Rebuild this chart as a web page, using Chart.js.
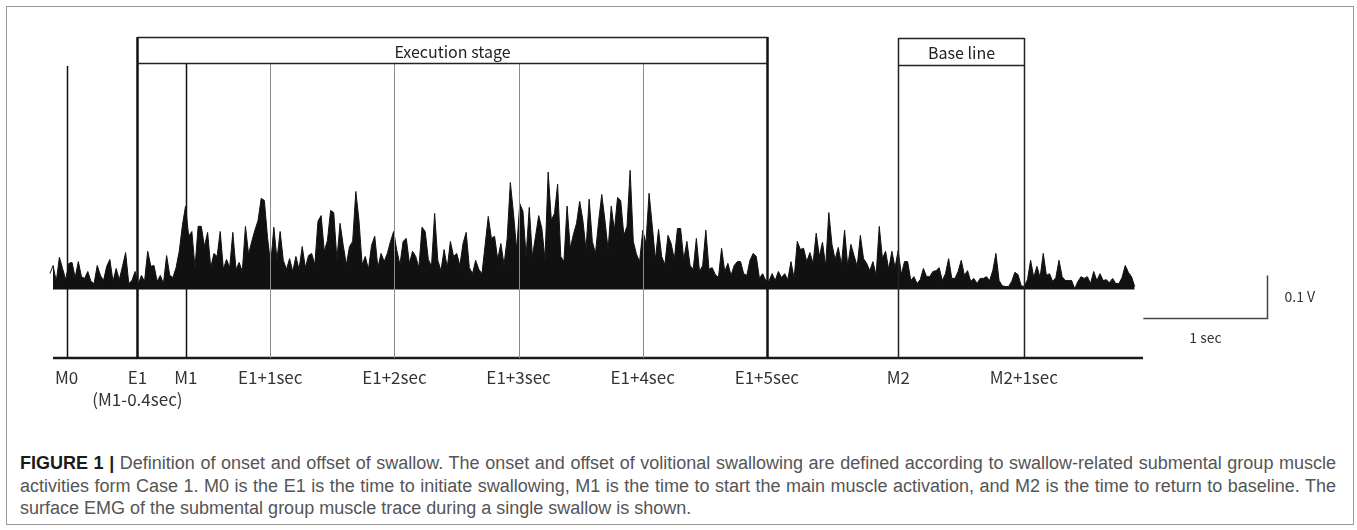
<!DOCTYPE html>
<html>
<head>
<meta charset="utf-8">
<script src="https://cdn.jsdelivr.net/npm/chart.js@4/dist/chart.umd.min.js"></script>
<style>
  html, body { margin: 0; padding: 0; background: #fff; }
  body { width: 1357px; height: 530px; position: relative; overflow: hidden; }
  #frame { position: absolute; left: 6px; top: 6px; width: 1346px; height: 517px; border: 1px solid #9a9a9a; }
  #plot { position: absolute; left: 0; top: 0; }
  #caption {
    position: absolute; left: 20px; top: 452px; width: 1316px;
    font-family: "Liberation Sans", Arial, sans-serif; font-size: 18px; line-height: 22.5px;
    color: #555;
  }
  #caption div { white-space: nowrap; }
  #caption .full { text-align: justify; text-align-last: justify; white-space: normal; }
  #caption b { color: #1a1a1a; font-weight: 700; }
</style>
</head>
<body>
<div id="frame"></div>
<canvas id="plot" width="1357" height="420"></canvas>
<div id="caption">
  <div class="full"><b>FIGURE 1 |</b> Definition of onset and offset of swallow. The onset and offset of volitional swallowing are defined according to swallow-related submental group muscle</div>
  <div class="full">activities form Case 1. M0 is the E1 is the time to initiate swallowing, M1 is the time to start the main muscle activation, and M2 is the time to return to baseline. The</div>
  <div>surface EMG of the submental group muscle trace during a single swallow is shown.</div>
</div>
<script>
// event markers (seconds after E1, as drawn)
var markerLabels = ['M0', 'E1', 'M1', 'E1+1sec', 'E1+2sec', 'E1+3sec', 'E1+4sec', 'E1+5sec', 'M2', 'M2+1sec'];
var markerNotes = ['', '(M1-0.4sec)', '', '', '', '', '', '', '', ''];
var markerTimes = [-0.64, -0.07, 0.32, 1, 2, 3, 4, 5, 6.06, 7.07];

// stage boxes: [first marker, last marker]
var stageNames = ['Execution stage', 'Base line'];
var stageSpans = [[1, 7], [8, 9]];

// scale bar
var scaleBarSec = 1;
var scaleBarMv = 100;

// surface EMG (rectified), mV
var emgStartSec = -0.8;
var emgStepSec = 0.0254;
var emgMv = [
  14,37,56,19,75,49,23,61,63,28,65,30,26,42,19,14,56,33,21,54,
  70,19,49,23,54,86,14,21,42,12,33,19,89,54,56,19,33,14,79,33,
  28,51,89,149,194,124,135,51,147,147,100,133,51,84,77,135,47,70,51,133,
  47,63,42,147,82,112,138,161,212,207,121,58,145,70,135,68,47,72,42,77,
  47,100,51,79,84,58,159,172,89,114,184,179,70,154,103,58,100,112,228,161,
  58,77,47,103,124,51,84,65,84,112,135,91,58,112,119,61,89,77,51,145,
  135,70,54,177,68,44,93,51,112,77,84,56,107,133,51,37,68,47,37,103,
  170,119,124,70,107,58,119,249,177,93,200,182,77,191,77,124,172,142,70,273,
  161,177,245,77,65,194,96,128,154,205,161,93,210,112,84,159,221,161,93,194,
  138,214,207,126,147,277,112,82,65,138,107,224,149,70,140,77,58,126,107,70,
  142,142,70,112,56,47,119,42,56,138,47,51,35,28,96,42,61,33,56,65,
  65,37,33,68,84,77,26,37,21,19,37,21,42,28,37,23,65,26,112,93,
  96,65,86,61,131,77,110,54,179,105,70,98,58,138,54,105,79,54,126,72,
  61,44,65,33,147,72,89,47,89,51,91,35,65,65,21,30,14,23,49,30,
  30,42,44,51,21,37,72,26,26,42,68,33,44,19,26,14,26,26,30,21,
  44,84,21,9,7,7,19,40,35,9,7,23,68,28,54,28,84,33,37,19,
  28,68,30,21,21,21,2,19,30,26,30,14,42,21,37,21,23,16,26,14,
  14,28,56,40,30,7
];

var emgPoints = emgMv.map(function (v, i) {
  return { x: emgStartSec + i * emgStepSec, y: v };
});

var labelFont = '"Noto Sans CJK JP", "Noto Sans", sans-serif';

// line look of each marker: width, colour, top offset from plot top (px)
var markerLook = [
  { w: 1.5, c: '#111', top: 29 },
  { w: 2.5, c: '#111', top: 0 },
  { w: 1.5, c: '#111', top: 26 },
  { w: 1, c: '#8a8a8a', top: 26 },
  { w: 1, c: '#8a8a8a', top: 26 },
  { w: 1, c: '#8a8a8a', top: 26 },
  { w: 1, c: '#8a8a8a', top: 26 },
  { w: 2.5, c: '#111', top: 0 },
  { w: 1.5, c: '#222', top: 1 },
  { w: 1.5, c: '#222', top: 1 }
];
var boxLook = [{ top: 0, head: 26 }, { top: 1, head: 27 }];

var figurePlugin = {
  id: 'figureMarks',
  afterDatasetsDraw: function (chart) {
    var ctx = chart.ctx, xs = chart.scales.x, ys = chart.scales.y, area = chart.chartArea;
    ctx.save();
    // axis line
    ctx.strokeStyle = '#1a1a1a';
    ctx.lineWidth = 2.5;
    ctx.beginPath();
    ctx.moveTo(xs.getPixelForValue(-0.75), area.bottom);
    ctx.lineTo(area.right, area.bottom);
    ctx.stroke();
    // marker lines
    markerTimes.forEach(function (t, i) {
      var x = Math.round(xs.getPixelForValue(t)) + 0.5;
      ctx.strokeStyle = markerLook[i].c;
      ctx.lineWidth = markerLook[i].w;
      ctx.beginPath();
      ctx.moveTo(x, area.top + markerLook[i].top);
      ctx.lineTo(x, area.bottom);
      ctx.stroke();
    });
    // stage boxes
    stageSpans.forEach(function (span, i) {
      var x0 = Math.round(xs.getPixelForValue(markerTimes[span[0]])) + 0.5;
      var x1 = Math.round(xs.getPixelForValue(markerTimes[span[1]])) + 0.5;
      var y0 = area.top + boxLook[i].top + 0.5;
      var y1 = y0 + boxLook[i].head;
      ctx.strokeStyle = '#222';
      ctx.lineWidth = 1.5;
      ctx.beginPath();
      ctx.moveTo(x0, y0); ctx.lineTo(x1, y0);
      ctx.moveTo(x0, y1); ctx.lineTo(x1, y1);
      ctx.stroke();
      ctx.fillStyle = '#222';
      ctx.font = '16px ' + labelFont;
      ctx.textAlign = 'center';
      ctx.textBaseline = 'middle';
      ctx.fillText(stageNames[i], (x0 + x1) / 2, (y0 + y1) / 2 + 1);
    });
    // scale bar, anchored at its corner
    var cx = 1267.5, cy = 318.5;
    var w = xs.getPixelForValue(scaleBarSec) - xs.getPixelForValue(0);
    var h = ys.getPixelForValue(0) - ys.getPixelForValue(scaleBarMv);
    ctx.strokeStyle = '#444';
    ctx.lineWidth = 1.5;
    ctx.beginPath();
    ctx.moveTo(cx - w, cy); ctx.lineTo(cx, cy); ctx.lineTo(cx, cy - h);
    ctx.stroke();
    ctx.fillStyle = '#333';
    ctx.font = '14px ' + labelFont;
    ctx.textAlign = 'left';
    ctx.fillText((scaleBarMv / 1000) + ' V', cx + 17, cy - h / 2);
    ctx.textAlign = 'center';
    ctx.fillText(scaleBarSec + ' sec', cx - w / 2, cy + 19);
    ctx.restore();
  }
};

var ctx = document.getElementById('plot').getContext('2d');
var emgChart = new Chart(ctx, {
  type: 'line',
  data: {
    datasets: [{
      label: 'EMG',
      data: emgPoints,
      borderColor: '#111',
      backgroundColor: '#111',
      borderWidth: 1,
      fill: 'origin',
      pointRadius: 0,
      tension: 0,
      clip: false
    }]
  },
  options: {
    responsive: false,
    animation: false,
    devicePixelRatio: 1,
    layout: {
      padding: { left: 53, right: 214, top: 37, bottom: 0 }
    },
    plugins: {
      legend: { display: false },
      tooltip: { enabled: false }
    },
    scales: {
      x: {
        type: 'linear',
        min: -0.75,
        max: 8.03,
        grid: { display: false, drawTicks: false },
        border: { display: false },
        afterBuildTicks: function (scale) {
          scale.ticks = markerTimes.map(function (t) { return { value: t }; });
        },
        afterFit: function (scale) {
          scale.height = 62;
        },
        ticks: {
          autoSkip: false,
          maxRotation: 0,
          padding: 8,
          color: '#333',
          font: { family: labelFont, size: 17, lineHeight: 1.32 },
          callback: function (value, index) {
            return markerNotes[index] ? [markerLabels[index], markerNotes[index]] : markerLabels[index];
          }
        }
      },
      y: {
        display: false,
        min: -159,
        max: 587
      }
    }
  },
  plugins: [figurePlugin]
});
</script>
</body>
</html>
